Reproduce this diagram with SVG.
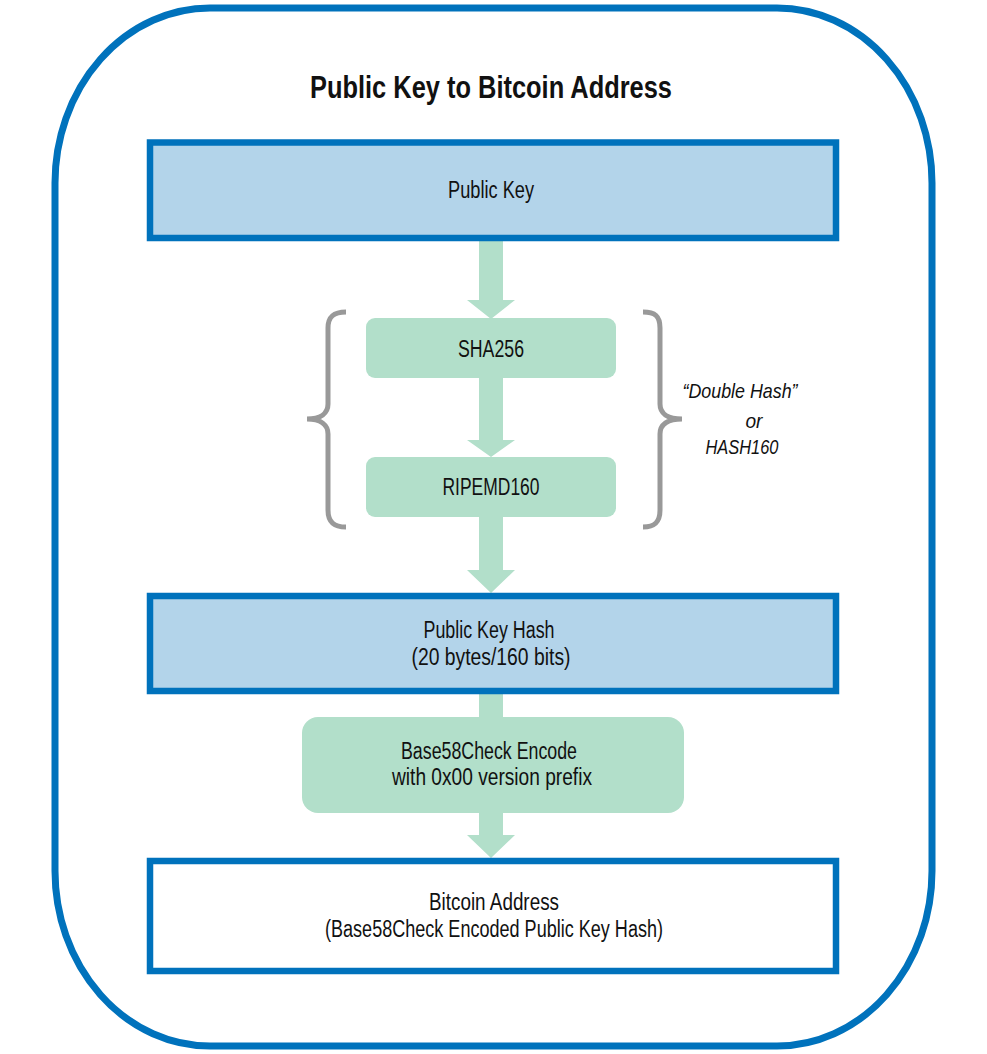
<svg xmlns="http://www.w3.org/2000/svg" width="987" height="1054" viewBox="0 0 987 1054">
<style>
.t{font-family:"Liberation Sans",Arial,sans-serif;font-size:23px;fill:#111;text-anchor:middle}
.it{font-style:italic;font-size:21px}
.title{font-weight:bold;font-size:32px}
.blue{fill:#B3D4EA;stroke:#0072BC;stroke-width:6.5}
.white{fill:#FFFFFF;stroke:#0072BC;stroke-width:6.5}
.green{fill:#B2DFCA}
.arrow{fill:#B2DFCA}
.brace{fill:none;stroke:#999999;stroke-width:5;stroke-linecap:butt}
</style>
<rect id="frame" x="55" y="8" width="877" height="1038" rx="155" ry="175" fill="#FFFFFF" stroke="#0072BC" stroke-width="7"/>
<text class="t title" x="491" y="98" textLength="362" lengthAdjust="spacingAndGlyphs">Public Key to Bitcoin Address</text>
<g id="connectors">
<polygon class="arrow" points="479,240 503,240 503,300 515,300 491,319 467,300 479,300"/>
<polygon class="arrow" points="479,377 503,377 503,440 515,440 491,457 467,440 479,440"/>
<polygon class="arrow" points="479,516 503,516 503,570 515,570 491,593 467,570 479,570"/>
<rect class="arrow" x="479" y="693" width="24" height="26"/>
<polygon class="arrow" points="479,812 503,812 503,835 515,835 491,858 467,835 479,835"/>
</g>
<g id="publickey">
<rect class="blue" x="150" y="142.5" width="686" height="95.5"/>
<text class="t" x="491" y="198" textLength="86" lengthAdjust="spacingAndGlyphs">Public Key</text>
</g>
<g id="sha256">
<rect class="green" x="366" y="318" width="250" height="60" rx="9"/>
<text class="t" x="491" y="357" textLength="66" lengthAdjust="spacingAndGlyphs">SHA256</text>
</g>
<g id="ripemd160">
<rect class="green" x="366" y="457" width="250" height="60" rx="9"/>
<text class="t" x="491" y="495" textLength="97" lengthAdjust="spacingAndGlyphs">RIPEMD160</text>
</g>
<g id="braces">
<path class="brace" d="M346,312 C334,312 328,316 328,328 L328,404 C328,413 321,419 307,419 C321,419 328,425 328,434 L328,510 C328,522 334,527 346,527"/>
<path class="brace" d="M643,312 C655,312 660,316 660,328 L660,404 C660,413 667,419 682,419 C667,419 660,425 660,434 L660,510 C660,522 655,527 643,527"/>
</g>
<g id="doublehash">
<text class="t it" x="740" y="398" textLength="115" lengthAdjust="spacingAndGlyphs">“Double Hash”</text>
<text class="t it" x="754" y="428" textLength="17" lengthAdjust="spacingAndGlyphs">or</text>
<text class="t it" x="742" y="454" textLength="73" lengthAdjust="spacingAndGlyphs">HASH160</text>
</g>
<g id="publickeyhash">
<rect class="blue" x="150" y="596" width="686" height="95"/>
<text class="t" x="489" y="638" textLength="131" lengthAdjust="spacingAndGlyphs">Public Key Hash</text>
<text class="t" x="491" y="665" textLength="159" lengthAdjust="spacingAndGlyphs">(20 bytes/160 bits)</text>
</g>
<g id="base58">
<rect class="green" x="302" y="717" width="382" height="96" rx="16"/>
<text class="t" x="489" y="759" textLength="176" lengthAdjust="spacingAndGlyphs">Base58Check  Encode</text>
<text class="t" x="492" y="785" textLength="200" lengthAdjust="spacingAndGlyphs">with 0x00 version prefix</text>
</g>
<g id="bitcoinaddress">
<rect class="white" x="150" y="861" width="686" height="110"/>
<text class="t" x="494" y="910" textLength="130" lengthAdjust="spacingAndGlyphs">Bitcoin Address</text>
<text class="t" x="494" y="937" textLength="338" lengthAdjust="spacingAndGlyphs">(Base58Check Encoded Public Key Hash)</text>
</g>
</svg>
